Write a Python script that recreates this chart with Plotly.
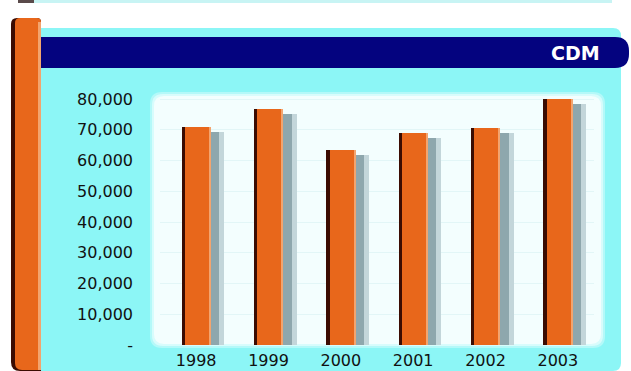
import plotly.graph_objects as go

# ---- data ----
years = ["1998", "1999", "2000", "2001", "2002", "2003"]
values = [70800, 76900, 63300, 69000, 70600, 80100]
ytick_vals = [0, 10000, 20000, 30000, 40000, 50000, 60000, 70000, 80000]
ytick_text = ["-", "10,000", "20,000", "30,000", "40,000", "50,000", "60,000", "70,000", "80,000"]
title_text = "CDM"

# ---- layout geometry ----
W, H = 631, 371
ML, MR, MT, MB = 160, 37, 93, 26
PW, PH = W - ML - MR, H - MT - MB
U = PW / len(years)  # pixels per category


def px(x):
    return (x - ML) / PW


def py(y):
    return (H - MB - y) / PH


def rrect(x0, y0, x1, y1, r_tl=0, r_tr=0, r_br=0, r_bl=0):
    """rounded rect path in paper coords from pixel coords"""
    def P(x, y):
        return f"{px(x):.5f},{py(y):.5f}"
    p = f"M {P(x0 + r_tl, y0)} L {P(x1 - r_tr, y0)} "
    if r_tr:
        p += f"Q {P(x1, y0)} {P(x1, y0 + r_tr)} "
    p += f"L {P(x1, y1 - r_br)} "
    if r_br:
        p += f"Q {P(x1, y1)} {P(x1 - r_br, y1)} "
    p += f"L {P(x0 + r_bl, y1)} "
    if r_bl:
        p += f"Q {P(x0, y1)} {P(x0, y1 - r_bl)} "
    p += f"L {P(x0, y0 + r_tl)} "
    if r_tl:
        p += f"Q {P(x0, y0)} {P(x0 + r_tl, y0)} "
    p += "Z"
    return p


CYAN = "#8cf6f6"
NAVY = "#04037f"
ORANGE = "#e8671b"
DARK = "#3b0c02"
PEACH = "#f3a46e"
SHADOW = "#8ea7ad"

shapes = []


def add(path, color, layer="below"):
    shapes.append(dict(type="path", path=path, xref="paper", yref="paper",
                       fillcolor=color, line=dict(width=0), layer=layer))


# top thin strip
add(rrect(34, 0, 612, 3), "#c8f4f4")
add(rrect(18, 0, 34, 3), "#5a4a4a")
# cyan panel
add(rrect(35, 28, 621, 371, r_tr=8, r_br=8), CYAN)
# navy band
add(rrect(35, 37, 629, 68, r_tr=14, r_br=14), NAVY)
# white inner panel (soft edge)
add(rrect(150, 92, 605, 348, 12, 12, 12, 12), "#b4f9f9")
add(rrect(152, 94, 603, 346, 11, 11, 11, 11), "#d8fcfc")
add(rrect(154, 96, 601, 344, 10, 10, 10, 10), "#f3fefe")
# left orange pillar
add(rrect(11, 18, 41, 371, r_tl=6, r_tr=4, r_bl=9), DARK)
add(rrect(15, 18, 41, 370, r_tl=5, r_tr=4, r_bl=7), ORANGE)
add(rrect(38, 22, 41, 370), PEACH)

fig = go.Figure()
xs = list(range(len(years)))
shadow_drop = 5 / PH * 82000

# shadow (soft edge then core)
fig.add_trace(go.Bar(x=xs, y=[v - shadow_drop for v in values], width=33 / U, offset=-5 / U,
                     marker=dict(color="#c3d6da", line=dict(width=0)), hoverinfo="skip"))
fig.add_trace(go.Bar(x=xs, y=[v - shadow_drop for v in values], width=27 / U, offset=-4 / U,
                     marker=dict(color=SHADOW, line=dict(width=0)), hoverinfo="skip"))
# main orange bar
fig.add_trace(go.Bar(x=xs, y=values, width=29.5 / U, offset=-14.6 / U,
                     marker=dict(color=ORANGE, line=dict(width=0)), name="CDM"))
# dark left edge
fig.add_trace(go.Bar(x=xs, y=values, width=3.5 / U, offset=-14.6 / U,
                     marker=dict(color=DARK, line=dict(width=0)), hoverinfo="skip"))
# light right edge
fig.add_trace(go.Bar(x=xs, y=values, width=2.2 / U, offset=12.7 / U,
                     marker=dict(color=PEACH, line=dict(width=0)), hoverinfo="skip"))

fig.update_layout(
    width=W, height=H,
    margin=dict(l=ML, r=MR, t=MT, b=MB, pad=0, autoexpand=False),
    paper_bgcolor="white", plot_bgcolor="rgba(0,0,0,0)",
    barmode="overlay", showlegend=False, bargap=0,
    shapes=shapes,
    font=dict(family="DejaVu Sans", size=16, color="#111111"),
    xaxis=dict(range=[-0.5, len(years) - 0.5], tickmode="array", tickvals=xs, ticktext=years,
               showgrid=False, zeroline=False, showline=False, ticks="", ticklabelstandoff=4,
               fixedrange=True, automargin=False),
    yaxis=dict(range=[0, 82000], tickmode="array", tickvals=ytick_vals, ticktext=ytick_text,
               showgrid=True, gridcolor="#e2f6f7", gridwidth=1, zeroline=False, showline=False,
               ticks="", ticklabelstandoff=26, fixedrange=True, automargin=False),
    annotations=[dict(text=f"<b>{title_text}</b>", x=px(575), y=py(53), xref="paper", yref="paper",
                      showarrow=False, font=dict(family="DejaVu Sans", size=19, color="white"),
                      xanchor="center", yanchor="middle")],
)

fig.write_html("out.html")
